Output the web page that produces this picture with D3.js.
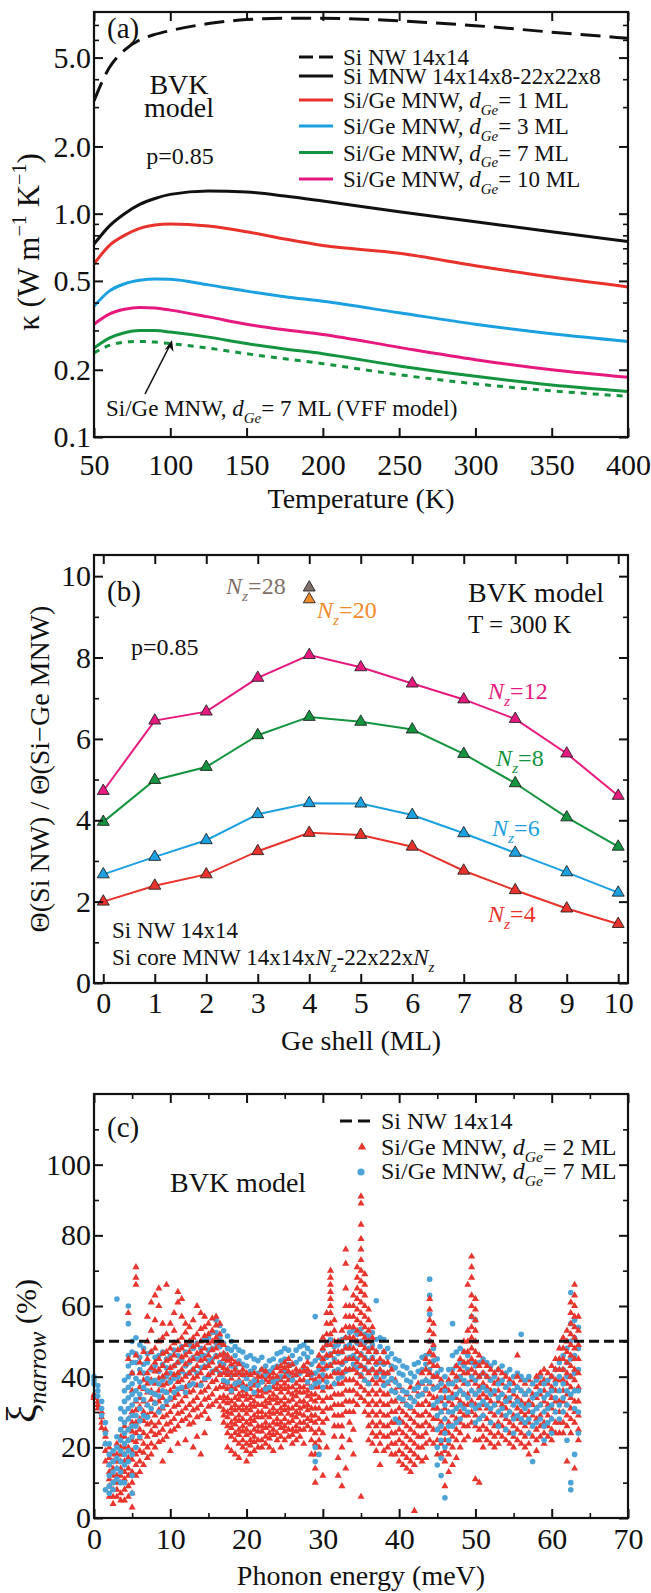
<!DOCTYPE html>
<html>
<head>
<meta charset="utf-8">
<script src="https://cdn.jsdelivr.net/npm/d3@7"></script>
<style>
  body { margin: 0; background: #fff; }
  svg, svg text { font-family: "Liberation Serif", "Times New Roman", serif; }
</style>
</head>
<body>
<script>
// ---------- panel (a) data: thermal conductivity vs temperature ----------
const tempK    = [50, 60, 70, 80, 90, 100, 125, 150, 175, 200, 250, 300, 350, 400];
const kSiNW    = [3.2, 4.5, 5.4, 6.0, 6.35, 6.6, 7.1, 7.4, 7.5, 7.5, 7.3, 6.95, 6.5, 6.1];
const kSiMNW   = [0.73, 0.88, 1.0, 1.1, 1.17, 1.22, 1.265, 1.25, 1.2, 1.14, 1.02, 0.92, 0.83, 0.75];
const kGe1     = [0.595, 0.72, 0.8, 0.86, 0.89, 0.9, 0.88, 0.83, 0.77, 0.72, 0.665, 0.585, 0.52, 0.47];
const kGe3     = [0.385, 0.45, 0.485, 0.503, 0.51, 0.508, 0.48, 0.45, 0.425, 0.405, 0.36, 0.32, 0.29, 0.268];
const kGe7     = [0.25, 0.277, 0.293, 0.3, 0.3, 0.295, 0.28, 0.262, 0.248, 0.236, 0.208, 0.187, 0.171, 0.16];
const kGe10    = [0.32, 0.355, 0.373, 0.38, 0.378, 0.37, 0.345, 0.32, 0.302, 0.288, 0.252, 0.222, 0.2, 0.185];
const kGe7VFF  = [0.238, 0.257, 0.266, 0.268, 0.266, 0.262, 0.25, 0.236, 0.224, 0.213, 0.19, 0.173, 0.161, 0.152];
const kTicks   = [0.1, 0.2, 0.5, 1, 2, 5];
const kMinor   = [0.3, 0.4, 0.6, 0.7, 0.8, 0.9, 3, 4, 6, 7];
const tTicks   = [50, 100, 150, 200, 250, 300, 350, 400];

// ---------- panel (b) data: ratio vs Ge shell ----------
const geShell  = [0, 1, 2, 3, 4, 5, 6, 7, 8, 9, 10];
const thNz4    = [2.0, 2.39, 2.67, 3.24, 3.69, 3.64, 3.35, 2.76, 2.28, 1.83, 1.45];
const thNz6    = [2.67, 3.10, 3.51, 4.15, 4.42, 4.41, 4.13, 3.68, 3.20, 2.72, 2.22];
const thNz8    = [3.96, 4.99, 5.31, 6.09, 6.54, 6.42, 6.23, 5.63, 4.91, 4.07, 3.35];
const thNz12   = [4.72, 6.45, 6.67, 7.50, 8.06, 7.76, 7.36, 6.97, 6.49, 5.64, 4.60];
const thNz20   = [[4, 9.43]];
const thNz28   = [[4, 9.72]];
const bYTicks  = [0, 2, 4, 6, 8, 10];
const bYMinor  = [1, 3, 5, 7, 9];

// ---------- panel (c) data: xi_narrow vs phonon energy, [energy, [values]] ----------
const redCols = [
  [0,[35,34.5,34]],[0.5,[33,32,31]],[1,[30,28.5,27,25.5]],[1.5,[25,23,21,19,16]],
  [2,[20,17,15,13,11,9,6]],[2.5,[18,16,14,12,10,8,6,4]],[3,[21,18,16,14,12,10,8,6]],
  [3.5,[23,20,18,16,14,12,10,7,5]],[4,[26,23,20,18,16,13,11,8,5]],[4.5,[28,25,22,20,17,14,12,9,6,45,58]],
  [5,[30,27,24.5,22,19,16.5,13,10,7,3,36,41]],[5.5,[33,30.5,27,24,21.5,18,15,12,71,68,66,46]],
  [6,[37,34,31.5,28,25,22.5,19,16,13,44,41]],[6.5,[39,36.5,33,30,27.5,24,21,18.5,15,47]],
  [7,[41,38,35.5,32,29,26.5,23,20,17,57,50,45]],[7.5,[42.5,39,36,33.5,30,27,24.5,21,18,61,53,47]],
  [8,[44,41.5,38,35,32.5,29,26,23.5,20,63,56,48]],[8.5,[45,42,39.5,36,33,30.5,27,24,21.5,65,60,50]],
  [9,[46.5,43,40,37.5,34,31,28.5,25,22,16,55,51]],[9.5,[47,44.5,41,38,35.5,32,29,26.5,23,66,52]],
  [10,[48,45,42.5,39,36,33.5,30,27,24.5,19,55]],[10.5,[49.5,46,43,40.5,37,34,31.5,28,25,53,58]],
  [11,[50,47.5,44,41,38.5,35,32,29.5,26,21,64,61]],[11.5,[51,48,45.5,42,39,36.5,33,30,27.5,62,57]],
  [12,[52.5,49,46,43.5,40,37,34.5,31,28,22,55]],[12.5,[50,47,44.5,41,38,35.5,32,29,26.5,54]],
  [13,[51,48.5,45,42,39.5,36,33,30.5,27,20,56]],[13.5,[52,49,46.5,43,40,37.5,34,31,28.5,23,60]],
  [14,[53.5,50,47,44.5,41,38,35.5,32,29,18,58]],[14.5,[54,51.5,48,45,42.5,39,36,33.5,30,24,57]],
  [15,[55,52,49.5,46,43,40.5,37,34,31.5,28]],[15.5,[56.5,53,50,47.5,44,41,38.5,35,32]],
  [16,[57,54.5,51,48,45.5,42,39,36.5,33]],[16.5,[55,52,49.5,46,43,40.5,37,34,31.5]],
  [17,[49,46.5,45,42.5,41,38.5,37,34.5,33,30.5,29,27]],[17.5,[46,44.5,42,40.5,38,36.5,34,32.5,30,28.5,26,24,20]],
  [18,[45,43.5,41,39.5,37,35.5,33,31,29.5,27,25.5,23,19]],[18.5,[44,42,40.5,38,36.5,34,32,30.5,28,26.5,24,22,18]],
  [19,[43.5,41,39,37.5,35,33.5,31,29,27.5,25,23.5,21,17]],[19.5,[42,40.5,38,36,34.5,32,30.5,28,26,24.5,22,20]],
  [20,[41,39.5,37,35,33.5,31,29.5,27,25,23.5,21,19,16]],[20.5,[40.5,38,36.5,34,32,30.5,28,26.5,24,22,20.5,18]],
  [21,[41,39,37.5,35,33,31.5,29,27.5,25,23,21.5,19]],[21.5,[40,38.5,36,34.5,32,30,28.5,26,24.5,22,20]],
  [22,[42,40,38.5,36,34.5,32,30,28.5,26,24.5,22,20]],[22.5,[41.5,39,37,35.5,33,31.5,29,27,25.5,23,21]],
  [23,[40,38.5,36,34,32.5,30,28.5,26,24,22.5,20]],[23.5,[41,39.5,37,35,33.5,31,29.5,27,25,23.5,19]],
  [24,[42.5,40,38,36.5,34,32.5,30,28,26.5,24,22]],[24.5,[43,41.5,39,37,35.5,33,31,29.5,27,25.5,23,20]],
  [25,[44,42.5,40,38,36.5,34,32,30.5,28,26,24.5,22]],[25.5,[45,43,41.5,39,37,35.5,33,31,29.5,27,25,23]],
  [26,[43.5,41,39.5,37,35,33.5,31,29,27.5,25,23.5,21]],[26.5,[42,40.5,38,36,34.5,32,30,28.5,26,24.5,22]],
  [27,[41.5,39,37,35.5,33,31,29.5,27,25,23]],[27.5,[43,41.5,39,37,35.5,33,31.5,29,27,25,21]],
  [28,[44,42,40.5,38,36,34.5,32,30.5,28,26]],[28.5,[41,39.5,37,35,33.5,31,29,27.5,25,22,18]],
  [29,[39,37,35,33,31,29,27,24,21,18,14,10]],[29.5,[46,43,40,37,34,31,28,25,22,20]],
  [30,[51,48,45,42,39,36,33,30,27,24,12]],[30.5,[58,55,52,49,46,43,40,37,34,31,28,20]],
  [31,[70,68,66,64,62,60,58,55,52,49,46,43,40,37,34,31]],[31.5,[56,53,50,47,44,41,38,35,32,29,26,23]],
  [32,[50,47,44,41,38,35,32,29,26,17,12]],[32.5,[53,50,47,44,41,38,35,32,29,26,23,20,9]],
  [33,[76,72,65,60,57,54,51,48,45,42,39,36,33,30,14]],[33.5,[60,57,54,51,48,45,42,39,36,33,30,27,22]],
  [34,[63,60,57,54,51,48,45,42,39,36,33,30,25,18]],[34.5,[71,68,65,62,59,56,53,50,47,44,41,38,35,32]],
  [35,[91,89,83,79,76,73,70,67,64,61,58,55,52,49,46,43,40,37,34,6]],[35.5,[69,66,63,60,57,54,51,48,45,42,39,36,33,30]],
  [36,[59,56,53,50,47,44,41,38,35,32,29,26,22]],[36.5,[54,51,48,45,42,39,36,33,30,27,24,21]],
  [37,[47,44,41,38,35,32,29,26,23,19]],[37.5,[45,42,39,36,33,30,27,24,21,15]],
  [38,[47,44,41,38,35,32,29,26,23,19]],[38.5,[44,41,38,35,32,29,26,23,20]],
  [39,[42,39,36,33,30,27,24,21,18]],[39.5,[39,36,33,30,27,24,21,18]],
  [40,[37,34,31,28,25,22,19,16]],[40.5,[36,33,30,27,24,21,18,15]],
  [41,[35,32,29,26,23,20,17,14]],[41.5,[37,34,31,28,25,22,19,16,13]],
  [42,[36,33,30,27,24,21,18,15,2]],[42.5,[38,35,32,29,26,23,20,17]],
  [43,[41,38,35,32,29,26,23,20,16]],[43.5,[45,42,39,36,33,30,27,24,21,17]],
  [44,[62,59,56,53,50,47,44,41,38,35,32,29,26,22]],[44.5,[55,52,49,46,43,40,37,34,31,28,25,21]],
  [45,[43,40,37,34,31,28,25,22,18]],[45.5,[39,36,33,30,27,24,21,18]],
  [46,[37,34,31,28,25,22,19,16,9]],[46.5,[39,36,33,30,27,24,21,18,13]],
  [47,[41,38,35,32,29,26,23,20,15]],[47.5,[43,40,37,34,31,28,25,22,17]],
  [48,[45,42,39,36,33,30,27,24,20]],[48.5,[50,47,44,41,38,35,32,29,26,22]],
  [49,[66,53,50,47,44,41,38,35,32,29,26,23]],[49.5,[74,71,68,63,60,57,54,51,48,45,42,39,36,33,30,27]],
  [50,[62,59,56,53,50,47,44,41,38,35,32,29,26,22,11]],[50.5,[46,43,40,37,34,31,28,25,22,10]],
  [51,[44,41,38,35,32,29,26,23,20]],[51.5,[43,40,37,34,31,28,25,22]],
  [52,[42,39,36,33,30,27,24,21]],[52.5,[41,38,35,32,29,26,23,20]],
  [53,[42,39,36,33,30,27,24,21]],[53.5,[41,38,35,32,29,26,23]],
  [54,[40,37,34,31,28,25,22]],[54.5,[39,36,33,30,27,24,21]],
  [55,[38,35,32,29,26,23,20]],[55.5,[46,40,37,34,31,28,25,22]],
  [56,[39,36,33,30,27,24,21]],[56.5,[38,35,32,29,26,23,20]],
  [57,[39,36,33,30,27,24,21,18]],[57.5,[38,35,32,29,26,23]],
  [58,[40,37,34,31,28,25,22,19]],[58.5,[41,38,35,32,29,26,23]],
  [59,[42,39,36,33,30,27,24,21]],[59.5,[41,38,35,32,29,26,23]],
  [60,[43,40,37,34,31,28,25,22]],[60.5,[45,42,39,36,33,30,27,24]],
  [61,[48,45,42,39,36,33,30,27,24]],[61.5,[51,48,45,42,39,36,33,30,27,24]],
  [62,[53,50,47,44,41,38,35,32,29,26,16]],[62.5,[61,58,55,52,49,46,43,40,37,34,31,28,24]],
  [63,[66,63,60,57,54,51,48,45,42,39,36,33,30,27,14]],[63.5,[57,53,49,45,41,37,33,29,25,22]]
];
const blueCols = [
  [0,[40,39,38]],[0.5,[37.5,36,34.5]],[1,[33,31,29]],[1.5,[27,24,21,8]],
  [2,[21,18,15,12,9,7]],[2.5,[19,16,13,10,8]],[3,[23,20,17,14,11,62]],
  [3.5,[31,28,25,22,19,16,13,10]],[4,[39,36,33,30,27,24,21,18,15,10]],
  [4.5,[46,43,40,37,34,31,28,25,22,19,16,60,55]],[5,[50,47,44,41,38,35,32,29,26,23,18,12,7]],
  [5.5,[51,46.5,44,39.5,36,33.5,29,26,20]],[6,[49,45.5,42,38.5,35,31,27.5,23]],
  [6.5,[48,43.5,41,37,33.5,29]],[7,[46.5,44,39.5,36,32,28.5]],[7.5,[47,42,38.5,35.5,31]],
  [8,[45.5,43,39,35,32.5]],[8.5,[46,41.5,38,34.5,30]],[9,[47,43.5,39,36,31.5]],
  [9.5,[45,42.5,40,35.5,33]],[10,[46,41,38.5,34]],[10.5,[47.5,43,39.5,35.5]],
  [11,[46,44,40,36.5]],[11.5,[48.5,44.5,41.5,37]],[12,[47,43,40.5,35.5]],
  [12.5,[49,44,41,37.5]],[13,[48,45.5,42,38]],[13.5,[49.5,45,41]],
  [14,[48,46,42.5,37.5]],[14.5,[50.5,46,43,39.5]],[15,[51,47.5,44.5,40]],
  [15.5,[52.5,48,45,41.5]],[16,[56,52.5,49.5,46,42]],[16.5,[54.5,51,48.5,44,41]],
  [17,[53,49.5,46.5,43.5,39]],[17.5,[51.5,48,45.5,41,38.5]],[18,[50,47.5,43,40.5,36]],
  [18.5,[48.5,46,42.5,38]],[19,[47.5,44.5,41,38.5]],[19.5,[47,43.5,40.5,37]],
  [20,[45.5,43,39.5,36.5]],[20.5,[46,41.5,38]],[21,[45,42.5,39,35.5]],
  [21.5,[44.5,41,37.5]],[22,[45.5,42,38.5]],[22.5,[43,40.5,36.5]],
  [23,[44.5,41.5,37]],[23.5,[45,42.5,38.5]],[24,[46.5,43,39.5]],
  [24.5,[47,44.5,40]],[25,[48,45,41.5]],[25.5,[47.5,43.5,40.5]],
  [26,[46,43.5,39]],[26.5,[47.5,44,40.5]],[27,[48.5,45,41]],
  [27.5,[49,46.5,42.5]],[28,[48,45.5,41.5,38.5]],[28.5,[47,43.5,40.5,37]],
  [29,[57,44.5,41,38,20,16]],[29.5,[45.5,42,38.5,18]],[30,[47.5,44,40.5,37]],
  [30.5,[49,45.5,42.5,38.5]],[31,[50.5,46.5,43.5]],[31.5,[48.5,45,41.5,38]],
  [32,[49,46.5,42,39.5]],[32.5,[50.5,47,43.5,40]],[33,[51,48.5,44.5,41.5]],
  [33.5,[52.5,49,45.5,42]],[34,[53,50.5,46,43.5]],[34.5,[52,49.5,45,42.5]],
  [35,[53.5,50,46.5,43,40.5]],[35.5,[52,49.5,45.5,42.5,39]],[36,[51.5,48,44.5,41.5,38]],
  [36.5,[52.5,49,45.5,42]],[37,[61.5,50.5,47,43.5,40]],[37.5,[51,48.5,44,41.5]],
  [38,[50.5,47,43.5,40,37.5]],[38.5,[48,45.5,41,38.5]],[39,[46.5,43,39.5,36]],
  [39.5,[45,42.5,38.5,35.5,28]],[40,[44.5,41,37.5,34,27]],[40.5,[43,40.5,36,33.5]],
  [41,[42.5,39,35.5,32]],[41.5,[41,38.5,34,31.5]],[42,[43.5,40,36.5,33]],
  [42.5,[44,41.5,37,34.5]],[43,[45.5,42,38.5,35]],[43.5,[46,43.5,39,36.5]],
  [44,[67.6,63,57.7,50,46.5,42,38.5]],[44.5,[48,44.5,40,36.5,32]],
  [45,[45,41,37,33,29,25,20,15]],[45.5,[42,38,34,30,26,22,17,12]],
  [46,[40,36,32,28,24,20,5.7]],[46.5,[42,38,34,30,26,22]],[47,[55,46,42,38,34,30,26]],
  [47.5,[47,43,39,35,31,27]],[48,[48,44,40,36,32,28]],[48.5,[47,43,39,35,31]],
  [49,[46,42,38,34,30]],[49.5,[57,44,40,36,32]],[50,[56,43,39,35,31,27]],
  [50.5,[44,40,36,32,28]],[51,[45,41,37,33,29]],[51.5,[44,40,36,32]],
  [52,[43,39,35,31,27]],[52.5,[44,40,36,32]],[53,[42,38,34,30,26]],
  [53.5,[43,39,35,31]],[54,[41,37,33,29,25]],[54.5,[42,38,34,30]],
  [55,[40,36,32,28,24]],[55.5,[41,37,33,29]],[56,[52,40,36,32,28]],
  [56.5,[39,35,31,27]],[57,[40,36,32,28,24]],[57.5,[38,34,30,26,16]],
  [58,[39,35,31,27]],[58.5,[40,36,32,28]],[59,[38,34,30,26,22]],
  [59.5,[39,35,31,27]],[60,[40,36,32,28,24]],[60.5,[42,38,34,30]],
  [61,[44,40,36,32,28]],[61.5,[46,42,38,34,30]],[62,[48,44,40,36,32,22]],
  [62.5,[63.8,55,50,45,40,35,10,8]],[63,[56,51,46,41,36,31,18]],[63.5,[54,48,42,36,30,24]]
];
const siNWLevel = 50;
const cXTicks = [0, 10, 20, 30, 40, 50, 60, 70];
const cXMinor = [5, 15, 25, 35, 45, 55, 65];
const cYTicks = [0, 20, 40, 60, 80, 100];
const cYMinor = [10, 30, 50, 70, 90, 110];

// ---------- colours ----------
const cRed = "#e8322b", cBlue = "#1ba0e0", cGreen = "#14943f", cMag = "#e6197e";
const cRedC = "#e8352e", cBlueC = "#4ba3d6";

const W = 651, H = 1593;
const L = 94, R = 628;
const FS = 30;

const svg = d3.select("body").append("svg")
  .attr("width", W).attr("height", H);
svg.append("rect").attr("width", W).attr("height", H).attr("fill", "#fff");

// text with italic / sub / sup pieces
function rich(t, parts, size) {
  let shift = 0;
  parts.forEach(p => {
    const txt = typeof p === "string" ? p : p[0];
    const kind = typeof p === "string" ? "" : p[1];
    let target = 0, fs = size;
    if (kind.includes("sub")) { target = size * 0.3; fs = size * 0.65; }
    if (kind.includes("sup")) { target = -size * 0.42; fs = size * 0.65; }
    const s = t.append("tspan").text(txt).attr("font-size", fs).attr("dy", target - shift);
    if (kind.includes("i")) s.attr("font-style", "italic");
    shift = target;
  });
  return t;
}
function label(g, x, y, parts, size, fill, anchor) {
  const t = g.append("text").attr("x", x).attr("y", y)
    .attr("font-size", size).attr("fill", fill || "#111")
    .attr("text-anchor", anchor || "start");
  return rich(t, parts, size);
}

// frame with inward ticks on all four sides
function frame(g, x, y, o) {
  const top = y.range()[1], bot = y.range()[0];
  const strip = s => s.call(a => a.select(".domain").remove())
    .attr("font-family", null).attr("font-size", FS);
  const sides = [
    [d3.axisBottom, `translate(0,${bot})`, x, o.xt, o.xf, o.xpad],
    [d3.axisTop, `translate(0,${top})`, x, o.xt, null, 0],
    [d3.axisLeft, `translate(${L},0)`, y, o.yt, o.yf, 3],
    [d3.axisRight, `translate(${R},0)`, y, o.yt, null, 0]
  ];
  sides.forEach(([ax, tr, sc, vals, fmt, pad]) => {
    const a = ax(sc).tickValues(vals).tickSize(-9).tickPadding(pad)
      .tickFormat(fmt ? fmt : () => "");
    g.append("g").attr("transform", tr).call(a).call(strip)
      .selectAll("line").attr("stroke", "#111").attr("stroke-width", 2);
  });
  const minors = [
    [d3.axisBottom, `translate(0,${bot})`, x, o.xm],
    [d3.axisTop, `translate(0,${top})`, x, o.xm],
    [d3.axisLeft, `translate(${L},0)`, y, o.ym],
    [d3.axisRight, `translate(${R},0)`, y, o.ym]
  ];
  minors.forEach(([ax, tr, sc, vals]) => {
    if (!vals) return;
    g.append("g").attr("transform", tr)
      .call(ax(sc).tickValues(vals).tickSize(-5).tickFormat(() => "")).call(strip)
      .selectAll("line").attr("stroke", "#111").attr("stroke-width", 1.6);
  });
  g.selectAll(".tick text").attr("fill", "#111");
  g.append("rect").attr("x", L).attr("y", top).attr("width", R - L).attr("height", bot - top)
    .attr("fill", "none").attr("stroke", "#111").attr("stroke-width", 2.2);
}

// ======================= panel (a) =======================
{
  const g = svg.append("g");
  const x = d3.scaleLinear().domain([50, 400]).range([L, R]);
  const y = d3.scaleLog().domain([0.1, 8]).range([437, 12]);
  g.append("clipPath").attr("id", "clipA").append("rect")
    .attr("x", L).attr("y", 12).attr("width", R - L).attr("height", 425);
  const line = d3.line().x((d, i) => x(tempK[i])).y(d => y(d)).curve(d3.curveMonotoneX);
  const series = [
    [kSiNW, "#111", "20,9"], [kSiMNW, "#111", null], [kGe1, cRed, null],
    [kGe3, cBlue, null], [kGe10, cMag, null], [kGe7, cGreen, null], [kGe7VFF, cGreen, "6,6"]
  ];
  series.forEach(([d, c, dash]) => {
    g.append("path").attr("d", line(d)).attr("fill", "none").attr("stroke", c)
      .attr("stroke-width", 3).attr("stroke-dasharray", dash).attr("clip-path", "url(#clipA)");
  });
  frame(g, x, y, {xt: tTicks, xf: d => d, xpad: 17, yt: kTicks, yf: d3.format(".1f"), ym: kMinor});

  // legend
  const leg = [
    ["#111", "14,6", ["Si NW 14x14"], 57],
    ["#111", null, ["Si MNW 14x14x8-22x22x8"], 76],
    [cRed, null, ["Si/Ge MNW, ", ["d", "i"], ["Ge", "isub"], "= 1 ML"], 100],
    [cBlue, null, ["Si/Ge MNW, ", ["d", "i"], ["Ge", "isub"], "= 3 ML"], 126],
    [cGreen, null, ["Si/Ge MNW, ", ["d", "i"], ["Ge", "isub"], "= 7 ML"], 152.5],
    [cMag, null, ["Si/Ge MNW, ", ["d", "i"], ["Ge", "isub"], "= 10 ML"], 179]
  ];
  leg.forEach(([c, dash, parts, yy]) => {
    g.append("line").attr("x1", 299).attr("x2", 333).attr("y1", yy).attr("y2", yy)
      .attr("stroke", c).attr("stroke-width", 3).attr("stroke-dasharray", dash);
    label(g, 343, yy + 8, parts, 23);
  });
  label(g, 107, 38, ["(a)"], 29);
  label(g, 179, 94, ["BVK"], 28, null, "middle");
  label(g, 179, 117, ["model"], 28, null, "middle");
  label(g, 180, 164, ["p=0.85"], 24, null, "middle");
  label(g, 106, 416, ["Si/Ge MNW, ", ["d", "i"], ["Ge", "isub"], "= 7 ML (VFF model)"], 23);
  // arrow
  g.append("line").attr("x1", 145).attr("y1", 394).attr("x2", 170).attr("y2", 345)
    .attr("stroke", "#111").attr("stroke-width", 1.6);
  g.append("path").attr("d", "M172,340 L164.5,350 L170,347.5 L173.5,352 Z").attr("fill", "#111");

  label(g, (L + R) / 2, 508, ["Temperature (K)"], 28, null, "middle");
  const yl = g.append("text").attr("transform", "translate(39,242) rotate(-90)")
    .attr("text-anchor", "middle").attr("font-size", 31).attr("fill", "#111");
  rich(yl, ["κ (W m", ["−1", "sup"], " K", ["−1", "sup"], ")"], 31);
}

// ======================= panel (b) =======================
{
  const g = svg.append("g");
  const x = d3.scaleLinear().domain([-0.18, 10.19]).range([L, R]);
  const y = d3.scaleLinear().domain([0, 10.52]).range([983, 555]);
  const line = d3.line().x((d, i) => x(geShell[i])).y(d => y(d));
  const tri = d3.symbol(d3.symbolTriangle, 62);
  const sets = [[thNz12, cMag], [thNz8, cGreen], [thNz6, cBlue], [thNz4, cRed]];
  sets.forEach(([d, c]) => {
    g.append("path").attr("d", line(d)).attr("fill", "none").attr("stroke", c).attr("stroke-width", 2);
  });
  sets.forEach(([d, c]) => {
    g.selectAll(null).data(d).join("path").attr("d", tri)
      .attr("transform", (v, i) => `translate(${x(geShell[i])},${y(v)})`)
      .attr("fill", c).attr("stroke", "#222").attr("stroke-width", 0.9);
  });
  [[thNz28, "#7f6f68"], [thNz20, "#f18a2a"]].forEach(([d, c]) => {
    g.selectAll(null).data(d).join("path").attr("d", tri)
      .attr("transform", p => `translate(${x(p[0])},${y(p[1])})`)
      .attr("fill", c).attr("stroke", "#222").attr("stroke-width", 0.9);
  });
  frame(g, x, y, {xt: geShell, xf: d => d, xpad: 9, yt: bYTicks, yf: d => d, ym: bYMinor});

  label(g, 107, 601, ["(b)"], 29);
  label(g, 226, 594, [["N", "i"], ["z", "isub"], "=28"], 24, "#7f6f68");
  label(g, 317, 618, [["N", "i"], ["z", "isub"], "=20"], 24, "#f18a2a");
  label(g, 468, 602, ["BVK model"], 28);
  label(g, 468, 633, ["T = 300 K"], 25);
  label(g, 131, 655, ["p=0.85"], 24);
  label(g, 488, 699, [["N", "i"], ["z", "isub"], "=12"], 24, cMag);
  label(g, 496, 766, [["N", "i"], ["z", "isub"], "=8"], 24, cGreen);
  label(g, 492, 836, [["N", "i"], ["z", "isub"], "=6"], 24, cBlue);
  label(g, 488, 922, [["N", "i"], ["z", "isub"], "=4"], 24, cRed);
  label(g, 112, 938, ["Si NW 14x14"], 23);
  label(g, 112, 965, ["Si core MNW 14x14x", ["N", "i"], ["z", "isub"], "-22x22x", ["N", "i"], ["z", "isub"]], 23);

  label(g, (L + R) / 2, 1050, ["Ge shell (ML)"], 28, null, "middle");
  g.append("text").attr("transform", "translate(49,769) rotate(-90)")
    .attr("text-anchor", "middle").attr("font-size", 28).attr("fill", "#111")
    .text("Θ(Si NW) / Θ(Si−Ge MNW)");
}

// ======================= panel (c) =======================
{
  const g = svg.append("g");
  const x = d3.scaleLinear().domain([0, 70]).range([L, R]);
  const y = d3.scaleLinear().domain([0, 120]).range([1518, 1094]);
  const flat = cols => cols.flatMap(([e, vs]) => vs.map(v => [e, v]));
  const reds = flat(redCols), blues = flat(blueCols);
  const tri = d3.symbol(d3.symbolTriangle, 22);
  const drawRed = pts => g.selectAll(null).data(pts).join("path").attr("d", tri)
    .attr("transform", d => `translate(${x(d[0])},${y(d[1])})`).attr("fill", cRedC);
  // lower red body, then blue, then the upper red points on top
  drawRed(reds.filter(d => d[1] < 40));
  g.selectAll(null).data(blues).join("circle")
    .attr("cx", d => x(d[0])).attr("cy", d => y(d[1])).attr("r", 2.8).attr("fill", cBlueC);
  drawRed(reds.filter(d => d[1] >= 40));
  g.append("line").attr("x1", x(0)).attr("x2", x(70)).attr("y1", y(siNWLevel)).attr("y2", y(siNWLevel))
    .attr("stroke", "#111").attr("stroke-width", 3).attr("stroke-dasharray", "10,5");
  frame(g, x, y, {xt: cXTicks, xf: d => d, xm: cXMinor, xpad: 10, yt: cYTicks, yf: d => d, ym: cYMinor});

  // legend
  g.append("line").attr("x1", 340).attr("x2", 372).attr("y1", 1121).attr("y2", 1121)
    .attr("stroke", "#111").attr("stroke-width", 3).attr("stroke-dasharray", "12,6");
  label(g, 381, 1129, ["Si NW 14x14"], 24);
  g.append("path").attr("d", d3.symbol(d3.symbolTriangle, 30))
    .attr("transform", "translate(362,1147)").attr("fill", cRedC);
  label(g, 381, 1155, ["Si/Ge MNW, ", ["d", "i"], ["Ge", "isub"], "= 2 ML"], 24);
  g.append("circle").attr("cx", 361).attr("cy", 1172).attr("r", 3.6).attr("fill", cBlueC);
  label(g, 381, 1179, ["Si/Ge MNW, ", ["d", "i"], ["Ge", "isub"], "= 7 ML"], 24);
  label(g, 107, 1137, ["(c)"], 29);
  label(g, 170, 1192, ["BVK model"], 28);

  label(g, (L + R) / 2, 1585, ["Phonon energy (meV)"], 28, null, "middle");
  const yl = g.append("text").attr("transform", "translate(36,1351) rotate(-90)")
    .attr("text-anchor", "middle").attr("fill", "#111").attr("font-size", 30);
  yl.append("tspan").text("ξ").attr("font-size", 42);
  yl.append("tspan").text("narrow").attr("font-size", 25).attr("font-style", "italic").attr("dy", 10);
  yl.append("tspan").text(" (%)").attr("font-size", 30).attr("dy", -10);
}
</script>
</body>
</html>
